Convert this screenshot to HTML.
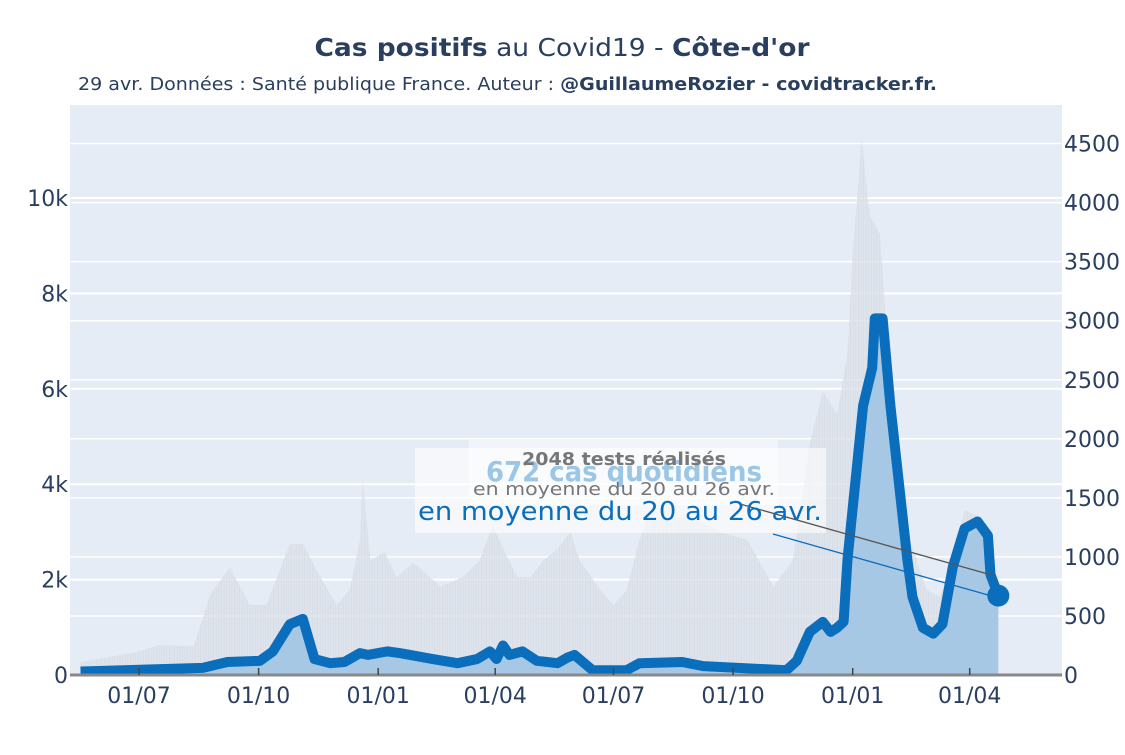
<!DOCTYPE html>
<html><head><meta charset="utf-8">
<style>
body{margin:0;background:#fff;}
svg text{font-family:"DejaVu Sans","Liberation Sans",sans-serif;}
</style></head>
<body>
<svg id="chart" width="1125" height="750" viewBox="0 0 1125 750" xmlns="http://www.w3.org/2000/svg">
<defs>
<pattern id="stripes" patternUnits="userSpaceOnUse" width="2.6" height="10">
<rect width="2.6" height="10" fill="#dde2ea"/><rect width="0.8" height="10" fill="#d3d9e3"/>
</pattern>
<clipPath id="plotclip"><rect x="70" y="105" width="992" height="570"/></clipPath>
</defs>
<text x="562" y="56" text-anchor="middle" font-size="25" fill="#2a3f5f" textLength="495" lengthAdjust="spacingAndGlyphs"><tspan font-weight="bold">Cas positifs</tspan> au Covid19 - <tspan font-weight="bold">Côte-d'or</tspan></text>
<text x="78" y="90" font-size="17.5" fill="#2a3f5f" textLength="859" lengthAdjust="spacingAndGlyphs">29 avr. Données : Santé publique France. Auteur : <tspan font-weight="bold">@GuillaumeRozier - covidtracker.fr.</tspan></text>
<rect x="70" y="105" width="992" height="570" fill="#e5ecf6"/>
<g id="grid"></g>
<g id="marks" clip-path="url(#plotclip)"></g>
<g id="axes"></g>
<g id="annot"></g>
</svg>
<script>
const testDates=["2020-05-17","2020-06-29","2020-07-17","2020-08-12","2020-08-25","2020-09-09","2020-09-24","2020-10-07","2020-10-25","2020-11-04","2020-11-15","2020-11-30","2020-12-10","2020-12-18","2020-12-20","2020-12-26","2021-01-06","2021-01-15","2021-01-28","2021-02-10","2021-02-18","2021-03-07","2021-03-20","2021-03-30","2021-04-10","2021-04-18","2021-04-28","2021-05-08","2021-05-19","2021-05-29","2021-06-05","2021-06-21","2021-07-01","2021-07-11","2021-07-21","2021-07-27","2021-08-31","2021-09-21","2021-10-12","2021-11-01","2021-11-16","2021-11-29","2021-12-09","2021-12-20","2021-12-28","2022-01-01","2022-01-08","2022-01-14","2022-01-22","2022-01-27","2022-02-04","2022-02-14","2022-02-27","2022-03-09","2022-03-19","2022-03-28","2022-04-09","2022-04-19","2022-04-23"];
const testValues=[270,480,630,600,1700,2260,1470,1470,2750,2750,2180,1470,1780,2830,4110,2400,2580,2050,2350,2050,1860,2050,2400,3140,2500,2050,2050,2400,2650,3000,2400,1780,1470,1780,2830,3300,3300,3000,2830,1860,2400,4850,5950,5470,6750,8850,11250,9640,9240,7230,4850,2830,1780,1650,2400,3460,3300,2050,1900];
const caseDates=["2020-05-17","2020-08-19","2020-09-07","2020-10-02","2020-10-12","2020-10-25","2020-11-04","2020-11-13","2020-11-25","2020-12-06","2020-12-18","2020-12-24","2021-01-08","2021-01-18","2021-02-12","2021-03-03","2021-03-18","2021-03-28","2021-04-02","2021-04-07","2021-04-12","2021-04-22","2021-05-03","2021-05-19","2021-05-27","2021-06-01","2021-06-15","2021-07-11","2021-07-21","2021-08-23","2021-09-08","2021-11-11","2021-11-19","2021-11-29","2021-12-09","2021-12-15","2021-12-20","2021-12-25","2021-12-28","2022-01-09","2022-01-16","2022-01-18","2022-01-24","2022-01-30","2022-02-12","2022-02-16","2022-02-24","2022-03-04","2022-03-11","2022-03-19","2022-03-28","2022-04-07","2022-04-15","2022-04-17","2022-04-23"];
const caseValues=[30,60,110,120,200,430,475,135,100,110,185,170,200,185,135,100,135,200,135,250,170,200,120,100,150,170,40,40,100,110,75,40,120,365,450,365,400,450,980,2280,2600,3020,3020,2280,980,660,400,350,430,915,1240,1300,1180,850,672];
const leftTicks=[0,2000,4000,6000,8000,10000];
const leftTickLabels=["0","2k","4k","6k","8k","10k"];
const rightTicks=[0,500,1000,1500,2000,2500,3000,3500,4000,4500];
const xTickDates=["2020-07-01","2020-10-01","2021-01-01","2021-04-01","2021-07-01","2021-10-01","2022-01-01","2022-04-01"];
const xTickLabels=["01/07","01/10","01/01","01/04","01/07","01/10","01/01","01/04"];

const NS="http://www.w3.org/2000/svg";
const base=Date.UTC(2020,6,1);
function xs(d){const p=d.split("-");return 139+(Date.UTC(+p[0],+p[1]-1,+p[2])-base)/86400000*1.3;}
function yl(v){return 675-v*95.4/2000;}
function yr(v){return 675-v*59.05/500;}
function mk(tag,attrs,parent){const e=document.createElementNS(NS,tag);for(const k in attrs)e.setAttribute(k,attrs[k]);parent.appendChild(e);return e;}
const grid=document.getElementById('grid'),marks=document.getElementById('marks'),axes=document.getElementById('axes'),annot=document.getElementById('annot');

leftTicks.forEach((v,i)=>{
  if(v>0){const g=mk('line',{x1:70,x2:1062,y1:yl(v),y2:yl(v),stroke:'#fff','stroke-width':2},grid);
  
  }
  const t=mk('text',{x:68,y:yl(v)+8,'text-anchor':'end','font-size':22,fill:'#2a3f5f'},axes);t.textContent=leftTickLabels[i];
  
  
});
rightTicks.forEach(v=>{
  if(v>0){const g=mk('line',{x1:70,x2:1062,y1:yr(v),y2:yr(v),stroke:'#fff','stroke-width':1.5},grid);
  
  }
  const t=mk('text',{x:1064,y:yr(v)+8,'font-size':22,fill:'#2a3f5f'},axes);t.textContent=String(v);
  
  
});

let d="M"+xs(testDates[0])+",675";
testDates.forEach((t,i)=>{d+=" L"+xs(t)+","+yl(testValues[i]);});
d+=" L"+xs(testDates[testDates.length-1])+",675 Z";
const ta=mk('path',{d:d,fill:'url(#stripes)',opacity:0.8},marks);



let c="M"+xs(caseDates[0])+",675";let l="";
caseDates.forEach((t,i)=>{c+=" L"+xs(t)+","+yr(caseValues[i]);l+=(i?" L":"M")+xs(t)+","+yr(caseValues[i]);});
c+=" L"+xs(caseDates[caseDates.length-1])+",675 Z";
const ca=mk('path',{d:c,fill:'#a3c6e4',opacity:0.95},marks);


const cl=mk('path',{d:l,fill:'none',stroke:'#0a6ebd','stroke-width':10,'stroke-linejoin':'round'},marks);


const li=caseDates.length-1;
const dot=mk('circle',{cx:xs(caseDates[li]),cy:yr(caseValues[li]),r:11,fill:'#0a6ebd'},marks);



const bl=mk('line',{x1:70,x2:1062,y1:675,y2:675,stroke:'#888','stroke-width':3},axes);


xTickDates.forEach((t,i)=>{
  const x=xs(t);
  const tk=mk('line',{x1:x,x2:x,y1:668,y2:675,stroke:'#444','stroke-width':1.5},axes);
  
  
  const tx=mk('text',{x:x,y:703,'text-anchor':'middle','font-size':22,fill:'#2a3f5f'},axes);tx.textContent=xTickLabels[i];
  
  
});

const ex=xs(caseDates[li]);
const b1=mk('rect',{x:415,y:448,width:411,height:85,fill:'#fff',opacity:0.6},annot);


const b2=mk('rect',{x:469,y:440,width:309,height:65,fill:'#fff',opacity:0.45},annot);


const a1=mk('line',{x1:773,y1:534,x2:ex-8,y2:yr(caseValues[li]),stroke:'#0a6ebd','stroke-width':1.3},annot);


const a2=mk('line',{x1:740,y1:504,x2:995,y2:576,stroke:'#555','stroke-width':1.3},annot);


const t1=mk('text',{x:624,y:481,'text-anchor':'middle','font-size':28,'font-weight':'bold',fill:'#9cc6e6',textLength:276,lengthAdjust:'spacingAndGlyphs'},annot);t1.textContent="672 cas quotidiens";


const t2=mk('text',{x:620,y:520,'text-anchor':'middle','font-size':26,fill:'#0a6ebd',textLength:404,lengthAdjust:'spacingAndGlyphs'},annot);t2.textContent="en moyenne du 20 au 26 avr.";


const t3=mk('text',{x:624,y:465,'text-anchor':'middle','font-size':18,'font-weight':'bold',fill:'#777',textLength:204,lengthAdjust:'spacingAndGlyphs'},annot);t3.textContent="2048 tests réalisés";


const t4=mk('text',{x:624,y:495,'text-anchor':'middle','font-size':18,fill:'#777',textLength:302,lengthAdjust:'spacingAndGlyphs'},annot);t4.textContent="en moyenne du 20 au 26 avr.";


</script>
</body></html>
